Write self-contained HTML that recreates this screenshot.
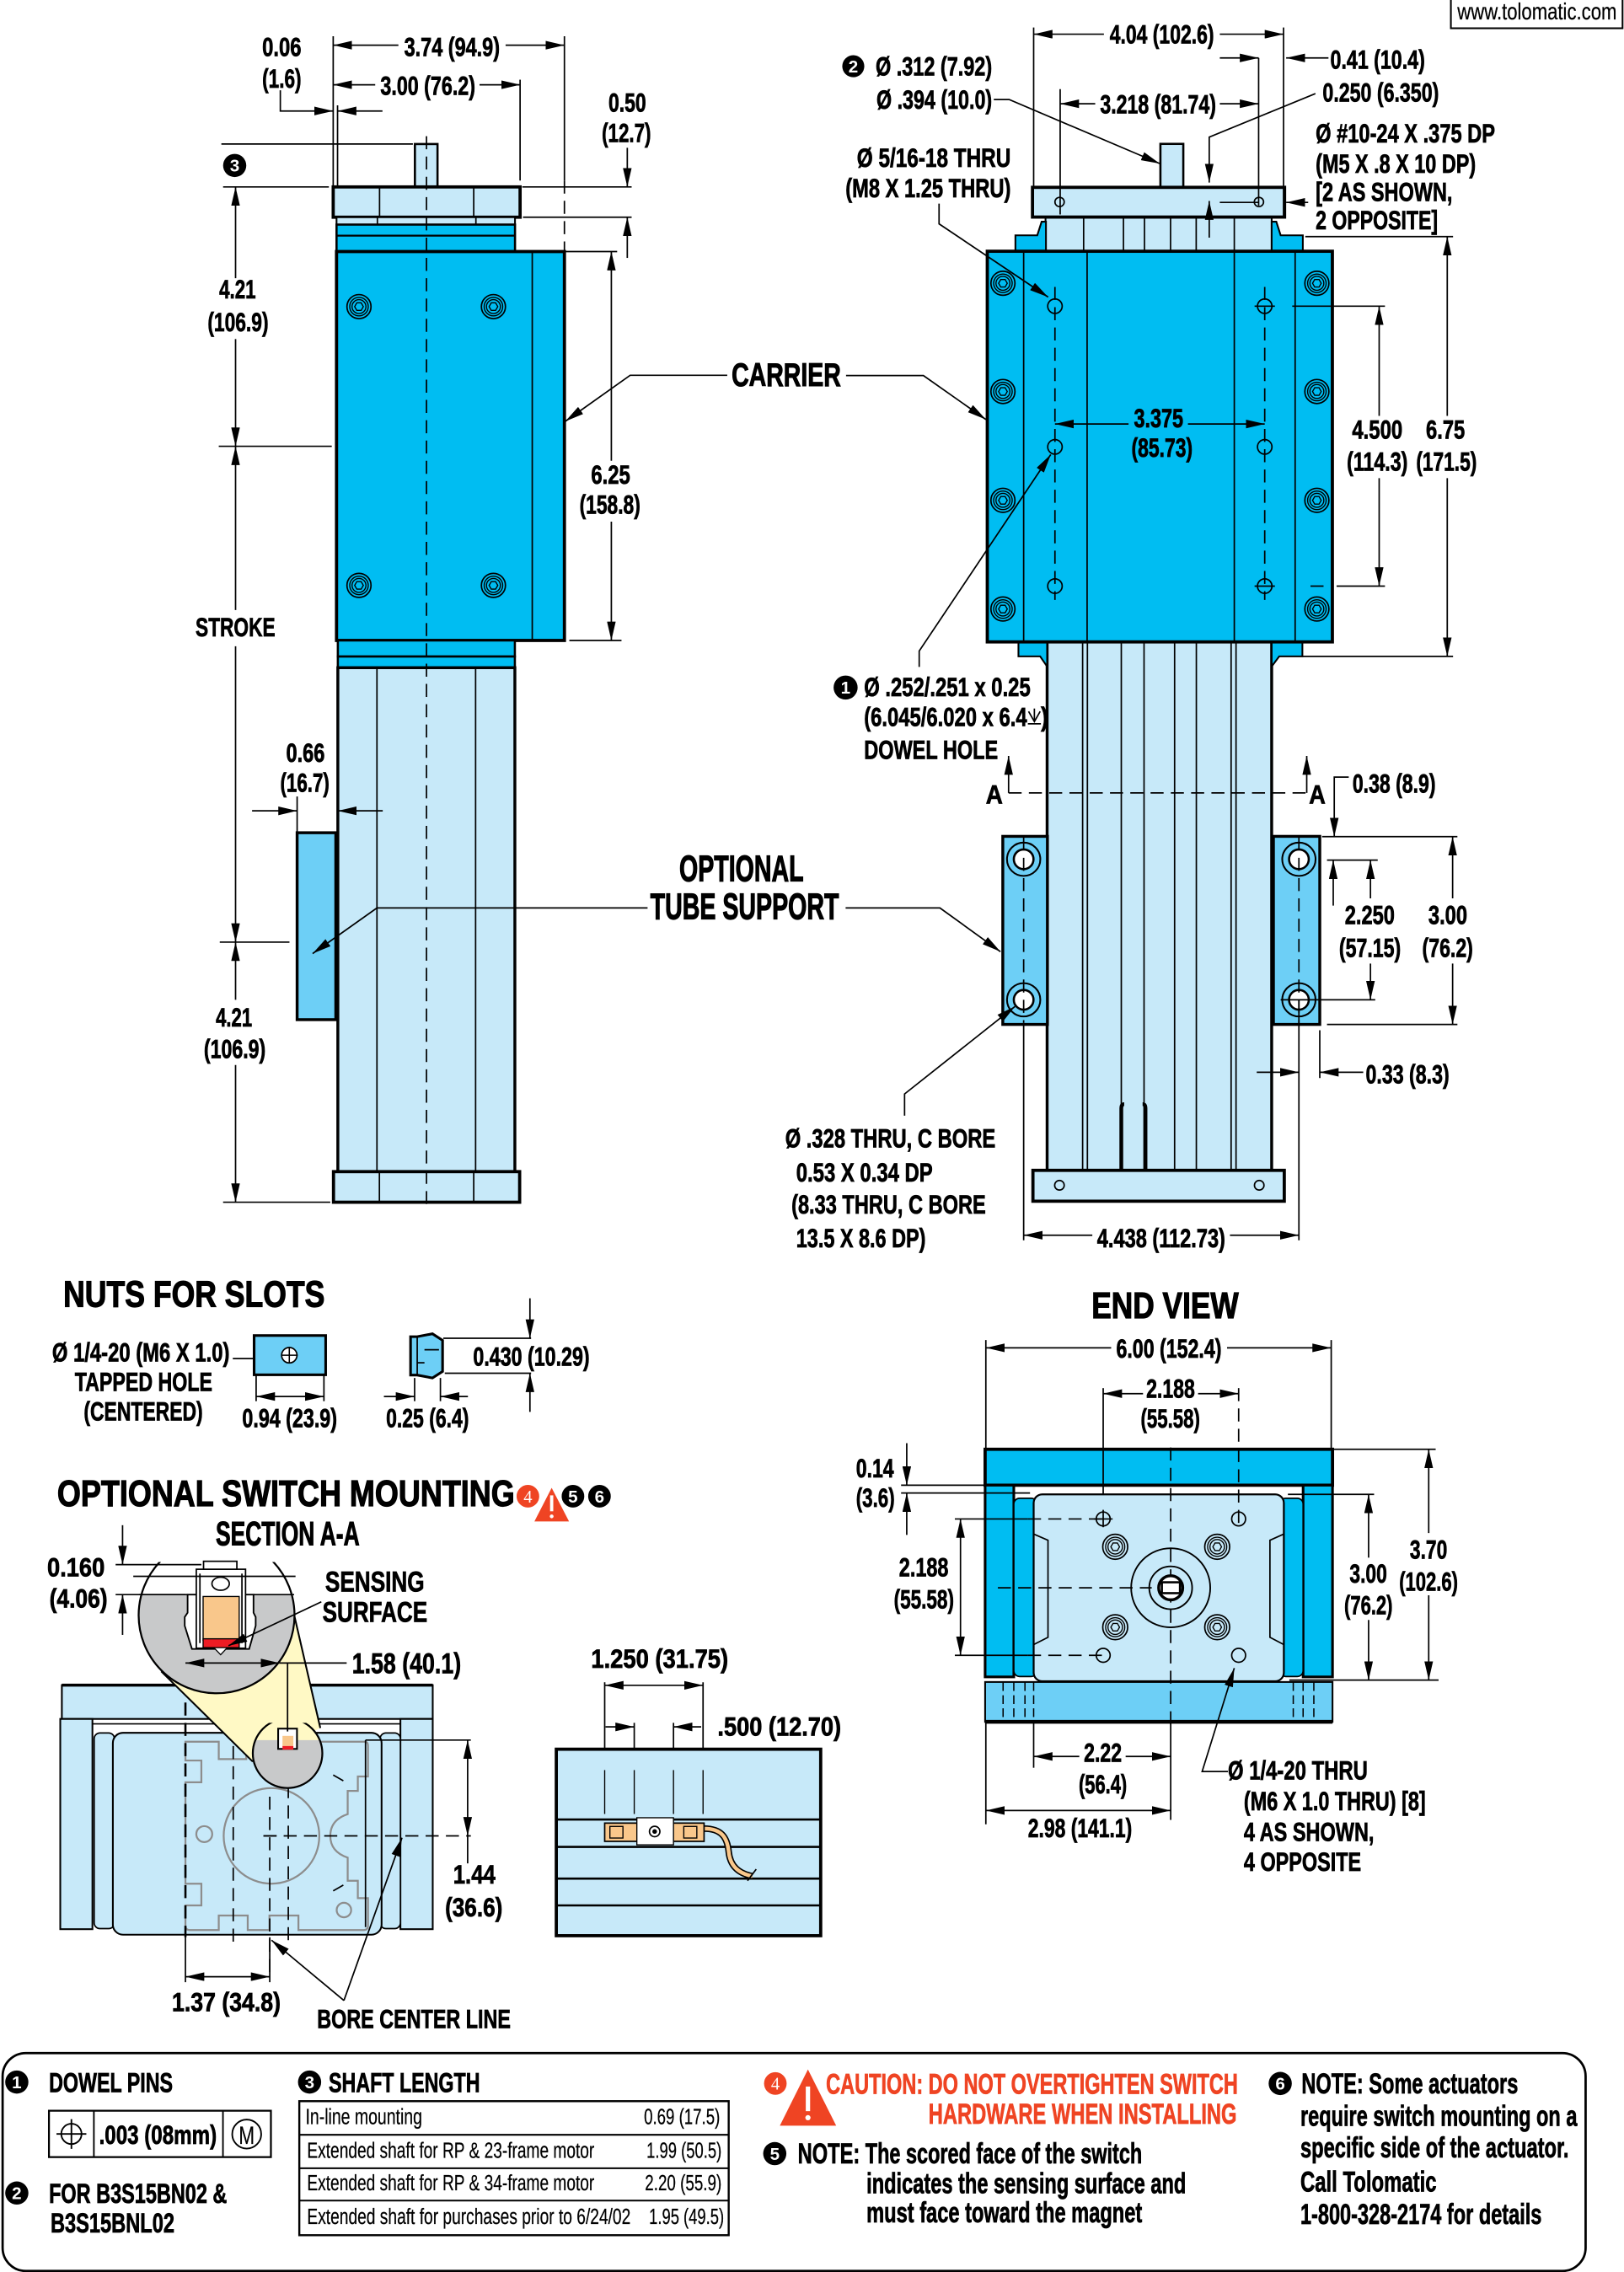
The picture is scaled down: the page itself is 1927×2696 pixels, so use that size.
<!DOCTYPE html>
<html><head><meta charset="utf-8"><style>
html,body{margin:0;padding:0;background:#fff}
svg{display:block}
text{font-family:"Liberation Sans",Arial,sans-serif;font-weight:bold;font-size:18.5px;fill:#000;stroke:#000;stroke-width:0.45}
.h{font-size:25.5px;stroke-width:0.7}
.m{font-size:20px}
.n{font-weight:normal;font-size:15px;stroke-width:0.15}
.w{fill:#fff;font-size:12px;text-anchor:middle;stroke:none}
.r{fill:#EF4423;stroke:#EF4423}
.d{stroke:#000;stroke-width:1;fill:none}
.k{stroke:#000;stroke-width:2.2}
.c{stroke:#000;stroke-width:1;stroke-dasharray:9 5;fill:none}
.g{stroke:#8d8d8d;stroke-width:1.3;fill:none}
</style></head><body>
<svg width="1927" height="2696" viewBox="0 0 1121 1568" preserveAspectRatio="none" xmlns="http://www.w3.org/2000/svg">
<defs>
<marker id="a" markerUnits="userSpaceOnUse" viewBox="0 0 13 6" markerWidth="13" markerHeight="6" refX="13" refY="3" orient="auto-start-reverse"><path d="M0,0L13,3L0,6z" fill="#000"/></marker>
<g id="scr"><circle r="8.3" fill="#00BDF2" stroke="#000" stroke-width="1"/><circle r="6.4" fill="none" stroke="#000" stroke-width="0.8"/><circle r="4.8" fill="none" stroke="#000" stroke-width="0.8"/><polygon points="3,0 1.5,2.6 -1.5,2.6 -3,0 -1.5,-2.6 1.5,-2.6" fill="none" stroke="#000" stroke-width="0.8"/></g>
<g id="scl"><circle r="8.6" fill="#C7E9F9" stroke="#000" stroke-width="1"/><circle r="6.6" fill="none" stroke="#000" stroke-width="0.8"/><circle r="5" fill="none" stroke="#000" stroke-width="0.8"/><polygon points="3,0 1.5,2.6 -1.5,2.6 -3,0 -1.5,-2.6 1.5,-2.6" fill="none" stroke="#000" stroke-width="0.8"/></g>
<g id="cbr"><circle r="11.5" fill="#6DCFF6" stroke="#000" stroke-width="1.2"/><circle r="6.8" fill="#fff" stroke="#000" stroke-width="1.5"/></g>
<clipPath id="cb1"><rect x="80" y="1078" width="140" height="100"/></clipPath>
<clipPath id="cg1"><rect x="80" y="1100.5" width="140" height="80"/></clipPath>
<clipPath id="cs1"><rect x="170" y="1189" width="60" height="50"/></clipPath>
<clipPath id="cs2"><rect x="170" y="1200.9" width="60" height="40"/></clipPath>
</defs>

<!-- website box -->
<rect x="1001.5" y="-2" width="118.5" height="21.5" fill="#fff" stroke="#000" stroke-width="1.2"/>
<text x="1006" y="13.5" class="n" style="font-size:16px" textLength="110" lengthAdjust="spacingAndGlyphs">www.tolomatic.com</text>

<!-- ================= LEFT SIDE VIEW ================= -->
<rect x="286.4" y="99.4" width="15.6" height="29.8" fill="#C7E9F9" stroke="#000" stroke-width="1.5"/>
<rect x="230" y="129" width="129" height="20.9" fill="#C7E9F9" class="k"/>
<line x1="262" y1="129" x2="262" y2="150" class="d"/><line x1="327" y1="129" x2="327" y2="150" class="d"/>
<rect x="232.3" y="149.9" width="123.2" height="5.1" fill="#C7E9F9" stroke="#000" stroke-width="1.2"/>
<line x1="260.5" y1="150" x2="260.5" y2="155" class="d"/><line x1="328.5" y1="150" x2="328.5" y2="155" class="d"/>
<rect x="232.3" y="155" width="123.2" height="18.6" fill="#00BDF2" stroke="#000" stroke-width="1.5"/>
<line x1="232.3" y1="162.6" x2="355.5" y2="162.6" class="d" style="stroke-width:1.3"/>
<rect x="232.3" y="173.6" width="157.3" height="268.4" fill="#00BDF2" class="k"/>
<line x1="367.4" y1="173.6" x2="367.4" y2="442" class="d"/>
<use href="#scr" x="247.8" y="211.6"/><use href="#scr" x="340.6" y="211.6"/>
<use href="#scr" x="247.8" y="404"/><use href="#scr" x="340.6" y="404"/>
<rect x="233.2" y="442" width="122.2" height="11.1" fill="#00BDF2" stroke="#000" stroke-width="1.5"/>
<rect x="233.2" y="453.1" width="122.2" height="7.7" fill="#00BDF2" stroke="#000" stroke-width="1.5"/>
<rect x="233.2" y="460.8" width="122.2" height="347.8" fill="#C7E9F9" stroke="#000" stroke-width="2"/>
<line x1="260.2" y1="460.8" x2="260.2" y2="808.6" class="d"/><line x1="328.3" y1="460.8" x2="328.3" y2="808.6" class="d"/>
<rect x="230.2" y="808.6" width="128.5" height="21.1" fill="#C7E9F9" class="k"/>
<line x1="261.9" y1="808.6" x2="261.9" y2="829.7" class="d"/><line x1="327" y1="808.6" x2="327" y2="829.7" class="d"/>
<rect x="205.1" y="574.7" width="26.7" height="129" fill="#6DCFF6" stroke="#000" stroke-width="2"/>
<line x1="294.4" y1="94" x2="294.4" y2="832" class="c"/>

<!-- left dims -->
<line x1="230" y1="25" x2="230" y2="129" class="d"/>
<line x1="389.6" y1="25" x2="389.6" y2="124.6" class="d"/>
<line x1="389.6" y1="124.6" x2="389.6" y2="178" class="c"/>
<line x1="275" y1="31.2" x2="230" y2="31.2" class="d" marker-end="url(#a)"/>
<line x1="349" y1="31.2" x2="389.6" y2="31.2" class="d" marker-end="url(#a)"/>
<text x="279" y="38.6" textLength="66" lengthAdjust="spacingAndGlyphs">3.74 (94.9)</text>
<line x1="359" y1="55" x2="359" y2="124.6" class="d"/>
<line x1="259" y1="58.5" x2="230" y2="58.5" class="d" marker-end="url(#a)"/>
<line x1="331" y1="58.5" x2="359" y2="58.5" class="d" marker-end="url(#a)"/>
<text x="262.6" y="65.3" textLength="65.5" lengthAdjust="spacingAndGlyphs">3.00 (76.2)</text>
<text x="181" y="38.6" textLength="27" lengthAdjust="spacingAndGlyphs">0.06</text>
<text x="181" y="60.5" textLength="27" lengthAdjust="spacingAndGlyphs">(1.6)</text>
<polyline points="193.5,62.3 193.5,76.6 230,76.6" class="d" marker-end="url(#a)"/>
<line x1="264" y1="76.6" x2="233" y2="76.6" class="d" marker-end="url(#a)"/>
<line x1="233" y1="72.7" x2="233" y2="129" class="d"/>
<line x1="152.8" y1="99.4" x2="285" y2="99.4" class="d"/>
<line x1="154" y1="129" x2="227" y2="129" class="d"/>
<circle cx="162" cy="114.2" r="8" fill="#000"/><text x="162" y="118.5" class="w">3</text>
<line x1="162.6" y1="192" x2="162.6" y2="129" class="d" marker-end="url(#a)"/>
<line x1="162.6" y1="234" x2="162.6" y2="308" class="d" marker-end="url(#a)"/>
<text x="151.3" y="206" textLength="25.3" lengthAdjust="spacingAndGlyphs">4.21</text>
<text x="143.3" y="228.5" textLength="42" lengthAdjust="spacingAndGlyphs">(106.9)</text>
<line x1="151" y1="308" x2="229" y2="308" class="d"/>
<line x1="162.6" y1="421" x2="162.6" y2="308" class="d" marker-end="url(#a)"/>
<line x1="162.6" y1="446" x2="162.6" y2="650.2" class="d" marker-end="url(#a)"/>
<text x="135" y="439" textLength="55" lengthAdjust="spacingAndGlyphs">STROKE</text>
<line x1="151.7" y1="650.2" x2="199.8" y2="650.2" class="d"/>
<line x1="162.6" y1="690" x2="162.6" y2="650.2" class="d" marker-end="url(#a)"/>
<line x1="162.6" y1="735" x2="162.6" y2="829.7" class="d" marker-end="url(#a)"/>
<text x="149" y="708.4" textLength="25" lengthAdjust="spacingAndGlyphs">4.21</text>
<text x="140.7" y="730.3" textLength="42.7" lengthAdjust="spacingAndGlyphs">(106.9)</text>
<line x1="154" y1="829.7" x2="228" y2="829.7" class="d"/>
<text x="420" y="77" textLength="26" lengthAdjust="spacingAndGlyphs">0.50</text>
<text x="415.4" y="98" textLength="34" lengthAdjust="spacingAndGlyphs">(12.7)</text>
<line x1="433" y1="102" x2="433" y2="129" class="d" marker-end="url(#a)"/>
<line x1="360.5" y1="129" x2="436" y2="129" class="d"/>
<line x1="361" y1="149.9" x2="436" y2="149.9" class="d"/>
<line x1="433" y1="178" x2="433" y2="149.9" class="d" marker-end="url(#a)"/>
<line x1="390" y1="173.6" x2="426" y2="173.6" class="d"/>
<line x1="393" y1="442" x2="429" y2="442" class="d"/>
<line x1="422" y1="318" x2="422" y2="173.6" class="d" marker-end="url(#a)"/>
<line x1="422" y1="360" x2="422" y2="442" class="d" marker-end="url(#a)"/>
<text x="408" y="333.8" textLength="27" lengthAdjust="spacingAndGlyphs">6.25</text>
<text x="400" y="354.6" textLength="42" lengthAdjust="spacingAndGlyphs">(158.8)</text>
<text x="505" y="266.4" class="m" style="font-size:22.5px;stroke-width:0.6" textLength="75.5" lengthAdjust="spacingAndGlyphs">CARRIER</text>
<polyline points="502,259 435,259 390.2,290.8" class="d" marker-end="url(#a)"/>
<polyline points="584,259.2 637.4,259.2 680.5,289.5" class="d" marker-end="url(#a)"/>
<text x="197.5" y="525.8" textLength="26.7" lengthAdjust="spacingAndGlyphs">0.66</text>
<text x="193.4" y="546.4" textLength="34" lengthAdjust="spacingAndGlyphs">(16.7)</text>
<line x1="174" y1="559.6" x2="205.1" y2="559.6" class="d" marker-end="url(#a)"/>
<line x1="264.2" y1="559.6" x2="233.2" y2="559.6" class="d" marker-end="url(#a)"/>
<line x1="205.1" y1="549.7" x2="205.1" y2="573.9" class="d"/>
<text x="468.9" y="608.2" class="h" textLength="85.8" lengthAdjust="spacingAndGlyphs">OPTIONAL</text>
<text x="448.9" y="634.3" class="h" textLength="130.2" lengthAdjust="spacingAndGlyphs">TUBE SUPPORT</text>
<polyline points="447,626.6 260.2,626.6 215.8,658.1" class="d" marker-end="url(#a)"/>
<polyline points="583.7,626.6 648.8,626.6 690.6,656.8" class="d" marker-end="url(#a)"/>

<!-- ================= RIGHT TOP VIEW ================= -->
<rect x="801" y="99.3" width="15.8" height="30" fill="#C7E9F9" stroke="#000" stroke-width="1.5"/>
<rect x="721.7" y="149.8" width="156.1" height="23.6" fill="#C7E9F9" stroke="#000" stroke-width="1.2"/>
<g class="d"><line x1="748" y1="150" x2="748" y2="173"/><line x1="775.5" y1="150" x2="775.5" y2="173"/><line x1="790" y1="150" x2="790" y2="173"/><line x1="808" y1="150" x2="808" y2="173"/><line x1="825.7" y1="150" x2="825.7" y2="173"/><line x1="852" y1="150" x2="852" y2="173"/></g>
<path d="M700.9,173.4 V162.4 H716 L719,153 H722 V173.4Z" fill="#00BDF2" stroke="#000" stroke-width="1.2"/>
<path d="M899.3,173.4 V162.4 H884 L881,153 H877.8 V173.4Z" fill="#00BDF2" stroke="#000" stroke-width="1.2"/>
<rect x="712.7" y="129.3" width="174" height="20.5" fill="#C7E9F9" class="k"/>
<circle cx="731.4" cy="139.4" r="3.2" fill="none" stroke="#000" stroke-width="1"/>
<circle cx="869" cy="139.4" r="3.2" fill="none" stroke="#000" stroke-width="1"/>
<rect x="722.8" y="443" width="155" height="364.7" fill="#C7E9F9" stroke="#000" stroke-width="2"/>
<g class="d"><line x1="747.3" y1="443" x2="747.3" y2="807"/><line x1="750.6" y1="443" x2="750.6" y2="807"/><line x1="774" y1="443" x2="774" y2="807"/><line x1="789.7" y1="443" x2="789.7" y2="807"/><line x1="810.8" y1="443" x2="810.8" y2="807"/><line x1="825.8" y1="443" x2="825.8" y2="807"/><line x1="849.8" y1="443" x2="849.8" y2="807"/><line x1="853.2" y1="443" x2="853.2" y2="807"/></g>
<path d="M774,807 V765 Q774,762 776,762 M790.7,807 V765 Q790.7,762 788.7,762" stroke="#000" stroke-width="2.6" fill="none"/>
<path d="M703,443 V453 H718 L722.8,460 V443Z" fill="#00BDF2" stroke="#000" stroke-width="1.2"/>
<path d="M899,443 V453 H883 L877.8,460 V443Z" fill="#00BDF2" stroke="#000" stroke-width="1.2"/>
<rect x="681.5" y="173.4" width="238.2" height="269.6" fill="#00BDF2" class="k"/>
<g class="d"><line x1="706.6" y1="173.4" x2="706.6" y2="443"/><line x1="750.4" y1="173.4" x2="750.4" y2="443"/><line x1="852" y1="173.4" x2="852" y2="443"/><line x1="894" y1="173.4" x2="894" y2="443"/></g>
<use href="#scr" x="692.3" y="195.5"/><use href="#scr" x="692.3" y="270.2"/><use href="#scr" x="692.3" y="345.3"/><use href="#scr" x="692.3" y="420.3"/>
<use href="#scr" x="909" y="195.5"/><use href="#scr" x="909" y="270.2"/><use href="#scr" x="909" y="345.3"/><use href="#scr" x="909" y="420.3"/>
<g fill="none" stroke="#000" stroke-width="1"><circle cx="728.2" cy="211.3" r="5"/><circle cx="728.2" cy="308.4" r="5"/><circle cx="728.2" cy="404.5" r="5"/><circle cx="873" cy="211.3" r="5"/><circle cx="873" cy="308.4" r="5"/><circle cx="873" cy="404.5" r="5"/></g>
<line x1="728.2" y1="198" x2="728.2" y2="414" class="c"/>
<line x1="873" y1="198" x2="873" y2="414" class="c"/>
<line x1="866" y1="211.3" x2="880" y2="211.3" class="d"/><line x1="866" y1="404.5" x2="880" y2="404.5" class="d"/>
<rect x="692.2" y="577.2" width="30.8" height="129.8" fill="#6DCFF6" stroke="#000" stroke-width="2"/>
<rect x="879" y="577.2" width="32" height="129.8" fill="#6DCFF6" stroke="#000" stroke-width="2"/>
<use href="#cbr" x="706.6" y="593"/><use href="#cbr" x="706.6" y="690"/><use href="#cbr" x="896.6" y="593"/><use href="#cbr" x="896.6" y="690"/>
<line x1="706.6" y1="578" x2="706.6" y2="706" class="c"/>
<line x1="896.6" y1="578" x2="896.6" y2="706" class="c"/>
<rect x="713" y="807.7" width="173.5" height="21.3" fill="#C7E9F9" class="k"/>
<circle cx="731.3" cy="818" r="3.3" fill="none" stroke="#000" stroke-width="1"/>
<circle cx="869.2" cy="818" r="3.3" fill="none" stroke="#000" stroke-width="1"/>

<!-- right dims -->
<line x1="713.5" y1="19" x2="713.5" y2="129" class="d"/>
<line x1="886" y1="19" x2="886" y2="150" class="d"/>
<line x1="762" y1="23.6" x2="713.5" y2="23.6" class="d" marker-end="url(#a)"/>
<line x1="842" y1="23.6" x2="886" y2="23.6" class="d" marker-end="url(#a)"/>
<text x="766" y="30" textLength="72" lengthAdjust="spacingAndGlyphs">4.04 (102.6)</text>
<line x1="842" y1="40" x2="868.8" y2="40" class="d" marker-end="url(#a)"/>
<line x1="868.8" y1="40" x2="868.8" y2="142" class="d"/>
<line x1="917" y1="40" x2="887.8" y2="40" class="d" marker-end="url(#a)"/>
<text x="918.3" y="47.3" textLength="65.3" lengthAdjust="spacingAndGlyphs">0.41 (10.4)</text>
<text x="913" y="70" textLength="80.2" lengthAdjust="spacingAndGlyphs">0.250 (6.350)</text>
<polyline points="908,64.6 834.7,94.6 834.7,126" class="d" marker-end="url(#a)"/>
<line x1="834.7" y1="164" x2="834.7" y2="138.7" class="d" marker-end="url(#a)"/>
<line x1="842" y1="139.7" x2="869" y2="139.7" class="d"/>
<line x1="903" y1="139.7" x2="887.8" y2="139.7" class="d" marker-end="url(#a)"/>
<line x1="731.8" y1="61.5" x2="731.8" y2="148" class="d"/>
<line x1="756" y1="71.6" x2="731.8" y2="71.6" class="d" marker-end="url(#a)"/>
<line x1="842" y1="71.6" x2="868.8" y2="71.6" class="d" marker-end="url(#a)"/>
<text x="759.4" y="78.2" textLength="80" lengthAdjust="spacingAndGlyphs">3.218 (81.74)</text>
<circle cx="589" cy="45.7" r="7.6" fill="#000"/><text x="589" y="50" class="w">2</text>
<text x="604.4" y="52" textLength="80.4" lengthAdjust="spacingAndGlyphs">Ø .312 (7.92)</text>
<text x="605" y="75" textLength="79.8" lengthAdjust="spacingAndGlyphs">Ø .394 (10.0)</text>
<polyline points="686,68.7 696.6,68.7 800.6,112.9" class="d" marker-end="url(#a)"/>
<text x="908.2" y="98.4" textLength="123.8" lengthAdjust="spacingAndGlyphs">Ø #10-24 X .375 DP</text>
<text x="908.2" y="119.2" textLength="110.5" lengthAdjust="spacingAndGlyphs">(M5 X .8 X 10 DP)</text>
<text x="908.2" y="138.7" textLength="94.4" lengthAdjust="spacingAndGlyphs">[2 AS SHOWN,</text>
<text x="908.2" y="158.3" textLength="84.3" lengthAdjust="spacingAndGlyphs">2 OPPOSITE]</text>
<text x="591.5" y="115.1" textLength="106.2" lengthAdjust="spacingAndGlyphs">Ø 5/16-18 THRU</text>
<text x="583.6" y="136.2" textLength="114.1" lengthAdjust="spacingAndGlyphs">(M8 X 1.25 THRU)</text>
<polyline points="648.2,140.5 648.2,154.5 723.5,205" class="d" marker-end="url(#a)"/>
<line x1="779" y1="292.6" x2="728.2" y2="292.6" class="d" marker-end="url(#a)"/>
<line x1="820" y1="292.6" x2="873" y2="292.6" class="d" marker-end="url(#a)"/>
<text x="782.7" y="294.8" textLength="34.1" lengthAdjust="spacingAndGlyphs">3.375</text>
<text x="781" y="315.3" textLength="42.2" lengthAdjust="spacingAndGlyphs">(85.73)</text>
<line x1="892" y1="211.3" x2="956" y2="211.3" class="d"/>
<line x1="922.6" y1="404.5" x2="956" y2="404.5" class="d"/>
<line x1="904.6" y1="404.5" x2="913.6" y2="404.5" class="d"/>
<line x1="952" y1="287" x2="952" y2="211.3" class="d" marker-end="url(#a)"/>
<line x1="952" y1="330" x2="952" y2="404.5" class="d" marker-end="url(#a)"/>
<text x="933.3" y="302.7" textLength="34.8" lengthAdjust="spacingAndGlyphs">4.500</text>
<text x="929.7" y="324.8" textLength="42" lengthAdjust="spacingAndGlyphs">(114.3)</text>
<line x1="901" y1="163.3" x2="1003" y2="163.3" class="d"/>
<line x1="899" y1="453" x2="1003" y2="453" class="d"/>
<line x1="999" y1="287" x2="999" y2="163.3" class="d" marker-end="url(#a)"/>
<line x1="999" y1="330" x2="999" y2="453" class="d" marker-end="url(#a)"/>
<text x="984.3" y="302.7" textLength="26.9" lengthAdjust="spacingAndGlyphs">6.75</text>
<text x="977.5" y="324.8" textLength="41.9" lengthAdjust="spacingAndGlyphs">(171.5)</text>
<circle cx="583.7" cy="474.5" r="8.3" fill="#000"/><text x="583.7" y="478.8" class="w">1</text>
<text x="596.4" y="480.5" textLength="114.9" lengthAdjust="spacingAndGlyphs">Ø .252/.251 x 0.25</text>
<text x="596.4" y="501.1" textLength="112.5" lengthAdjust="spacingAndGlyphs">(6.045/6.020 x 6.4</text>
<path d="M710,491 L714,498 L718,491 M714,489 V498 M709.5,499.5 H718.5" stroke="#000" stroke-width="1" fill="none"/>
<text x="718.5" y="501.1" textLength="5" lengthAdjust="spacingAndGlyphs">)</text>
<text x="596.4" y="523.6" textLength="92.5" lengthAdjust="spacingAndGlyphs">DOWEL HOLE</text>
<polyline points="634.5,460.3 634.5,449.3 725.3,313.7" class="d" marker-end="url(#a)"/>
<line x1="696.2" y1="547.2" x2="902.6" y2="547.2" class="c"/>
<line x1="696.2" y1="547.2" x2="696.2" y2="521.7" class="d" marker-end="url(#a)"/>
<line x1="902" y1="547.2" x2="902" y2="521.7" class="d" marker-end="url(#a)"/>
<text x="680.5" y="554.6" textLength="11.7" lengthAdjust="spacingAndGlyphs">A</text>
<text x="903.6" y="554.6" textLength="11.4" lengthAdjust="spacingAndGlyphs">A</text>
<text x="933.6" y="547" textLength="57.4" lengthAdjust="spacingAndGlyphs">0.38 (8.9)</text>
<polyline points="931,536.3 921,536.3 921,577.4" class="d" marker-end="url(#a)"/>
<line x1="912.6" y1="577.4" x2="1006" y2="577.4" class="d"/>
<line x1="916" y1="593.6" x2="951" y2="593.6" class="d"/>
<line x1="884" y1="690" x2="949.3" y2="690" class="d"/>
<line x1="920.3" y1="625" x2="920.3" y2="593.6" class="d" marker-end="url(#a)"/>
<line x1="946" y1="620" x2="946" y2="593.6" class="d" marker-end="url(#a)"/>
<line x1="946" y1="665" x2="946" y2="690" class="d" marker-end="url(#a)"/>
<text x="928.3" y="637.6" textLength="34.4" lengthAdjust="spacingAndGlyphs">2.250</text>
<text x="924.3" y="660.3" textLength="42.7" lengthAdjust="spacingAndGlyphs">(57.15)</text>
<line x1="1002.7" y1="620" x2="1002.7" y2="577.4" class="d" marker-end="url(#a)"/>
<line x1="1002.7" y1="665" x2="1002.7" y2="707" class="d" marker-end="url(#a)"/>
<text x="986" y="637.6" textLength="26.8" lengthAdjust="spacingAndGlyphs">3.00</text>
<text x="981.7" y="660.3" textLength="35.1" lengthAdjust="spacingAndGlyphs">(76.2)</text>
<line x1="916" y1="707" x2="1006" y2="707" class="d"/>
<line x1="867.5" y1="740" x2="896.6" y2="740" class="d" marker-end="url(#a)"/>
<line x1="896.6" y1="690" x2="896.6" y2="856" class="d"/>
<line x1="941" y1="740" x2="911" y2="740" class="d" marker-end="url(#a)"/>
<line x1="911" y1="711" x2="911" y2="744" class="d"/>
<text x="942.7" y="747.6" textLength="57.7" lengthAdjust="spacingAndGlyphs">0.33 (8.3)</text>
<line x1="706.6" y1="707" x2="706.6" y2="856" class="d"/>
<line x1="754" y1="852.5" x2="706.6" y2="852.5" class="d" marker-end="url(#a)"/>
<line x1="849" y1="852.5" x2="896.6" y2="852.5" class="d" marker-end="url(#a)"/>
<text x="757.3" y="860.7" textLength="88.5" lengthAdjust="spacingAndGlyphs">4.438 (112.73)</text>
<text x="542" y="792" textLength="145.2" lengthAdjust="spacingAndGlyphs">Ø .328 THRU, C BORE</text>
<text x="549.6" y="815.4" textLength="94.2" lengthAdjust="spacingAndGlyphs">0.53 X 0.34 DP</text>
<text x="546.3" y="837.4" textLength="134.2" lengthAdjust="spacingAndGlyphs">(8.33 THRU, C BORE</text>
<text x="549.6" y="860.7" textLength="89.4" lengthAdjust="spacingAndGlyphs">13.5 X 8.6 DP)</text>
<polyline points="624.4,770 624.4,755 700.6,694.6" class="d" marker-end="url(#a)"/>

<!-- ================= NUTS FOR SLOTS ================= -->
<text x="43.7" y="901.7" class="h" textLength="180.5" lengthAdjust="spacingAndGlyphs">NUTS FOR SLOTS</text>
<text x="36" y="939.5" textLength="122.5" lengthAdjust="spacingAndGlyphs">Ø 1/4-20 (M6 X 1.0)</text>
<text x="51.6" y="960" textLength="95" lengthAdjust="spacingAndGlyphs">TAPPED HOLE</text>
<text x="57.8" y="980.3" textLength="82.2" lengthAdjust="spacingAndGlyphs">(CENTERED)</text>
<line x1="160.7" y1="937.6" x2="175.4" y2="937.6" class="d"/>
<rect x="175.4" y="921.7" width="49.4" height="27.1" fill="#6DCFF6" stroke="#000" stroke-width="1.8"/>
<circle cx="199.7" cy="935.3" r="5.3" fill="#fff" stroke="#000" stroke-width="1"/>
<path d="M199.7,929.5V941M194,935.3H205.5" stroke="#000" stroke-width="0.9"/>
<line x1="176.8" y1="949" x2="176.8" y2="967" class="d"/><line x1="223.6" y1="949" x2="223.6" y2="967" class="d"/>
<line x1="176.8" y1="963.8" x2="223.6" y2="963.8" class="d" marker-start="url(#a)" marker-end="url(#a)"/>
<text x="167.2" y="985" textLength="65.5" lengthAdjust="spacingAndGlyphs">0.94 (23.9)</text>
<path d="M283.4,922.5 H288 L298.5,920.5 L305.5,925 V946.5 L298.5,951 L288,949 H283.4Z" fill="#6DCFF6" stroke="#000" stroke-width="1.8"/>
<line x1="288" y1="922.5" x2="288" y2="949" class="d"/>
<line x1="293" y1="931.5" x2="303" y2="931.5" class="d"/><line x1="288" y1="940.5" x2="293" y2="940.5" class="d"/>
<line x1="306" y1="923.6" x2="366.6" y2="923.6" class="d"/>
<line x1="307" y1="947.7" x2="366.6" y2="947.7" class="d"/>
<line x1="365.8" y1="896" x2="365.8" y2="923.6" class="d" marker-end="url(#a)"/>
<line x1="365.8" y1="974.4" x2="365.8" y2="947.7" class="d" marker-end="url(#a)"/>
<text x="326.6" y="942.5" textLength="80.4" lengthAdjust="spacingAndGlyphs">0.430 (10.29)</text>
<line x1="286.2" y1="951" x2="286.2" y2="967" class="d"/><line x1="304" y1="951" x2="304" y2="967" class="d"/>
<line x1="265" y1="963.8" x2="286.2" y2="963.8" class="d" marker-end="url(#a)"/>
<line x1="323" y1="963.8" x2="304" y2="963.8" class="d" marker-end="url(#a)"/>
<text x="266.5" y="985" textLength="57.2" lengthAdjust="spacingAndGlyphs">0.25 (6.4)</text>

<!-- ================= OPTIONAL SWITCH MOUNTING ================= -->
<text x="39.5" y="1039.4" class="h" textLength="315.8" lengthAdjust="spacingAndGlyphs">OPTIONAL SWITCH MOUNTING</text>
<circle cx="364.4" cy="1032.6" r="7.8" fill="#EF4423"/><text x="364.4" y="1036.9" class="w" style="font-weight:normal;font-family:'Liberation Serif',serif">4</text>
<path d="M380.8,1026.8 L392.8,1050 H368.9Z" fill="#EF4423"/>
<path d="M380.8,1032 V1043" stroke="#fff" stroke-width="2.2"/><circle cx="380.8" cy="1046.5" r="1.3" fill="#fff"/>
<circle cx="395.5" cy="1032.6" r="7.8" fill="#000"/><text x="395.5" y="1036.9" class="w">5</text>
<circle cx="413.8" cy="1032.6" r="7.8" fill="#000"/><text x="413.8" y="1036.9" class="w">6</text>
<text x="148.9" y="1066.5" style="font-size:23px;stroke-width:0.6" textLength="99.3" lengthAdjust="spacingAndGlyphs">SECTION A-A</text>

<!-- body -->
<rect x="42.7" y="1163" width="256" height="23.3" fill="#C7E9F9" stroke="#000" stroke-width="1.2"/>
<line x1="42.7" y1="1163" x2="298.7" y2="1163" stroke="#000" stroke-width="2"/>
<rect x="41.6" y="1186.3" width="22.2" height="145.1" fill="#C7E9F9" stroke="#000" stroke-width="1.2"/>
<rect x="276.4" y="1186.3" width="22.3" height="145.1" fill="#C7E9F9" stroke="#000" stroke-width="1.2"/>
<line x1="63.8" y1="1189.7" x2="276.4" y2="1189.7" class="d"/>
<rect x="65" y="1196" width="14" height="135" rx="4" fill="#C7E9F9" stroke="#000" stroke-width="1"/>
<rect x="262.4" y="1196" width="14" height="135" rx="4" fill="#C7E9F9" stroke="#000" stroke-width="1"/>
<rect x="77.9" y="1195.9" width="185.5" height="139.3" rx="7" fill="#C7E9F9" stroke="#000" stroke-width="1.2"/>
<path class="g" d="M128,1202 H151 V1214 H170 V1202 H252 Q254,1202 254,1205 V1226 H247 V1236 H240 V1252 Q228,1256 228,1267 Q228,1278 240,1282 V1298 H247 V1310 H254 V1329 Q254,1332 251,1332 H206 V1322 H186 V1332 H171 V1322 H151 V1332 H131 Q128,1332 128,1329 V1315 H139 V1300 H128 V1230 H139 V1215 H128Z"/>
<circle cx="187.4" cy="1267" r="33" class="g"/>
<circle cx="141" cy="1265.8" r="5.5" class="g"/>
<circle cx="237.4" cy="1318.2" r="5" class="g"/>
<line x1="252.3" y1="1200.9" x2="252.3" y2="1330" class="d"/>
<line x1="230" y1="1225" x2="237" y2="1229" class="d"/><line x1="230" y1="1305" x2="237" y2="1301" class="d"/>
<line x1="128" y1="1147" x2="128" y2="1337" class="c" style="stroke-width:1.5"/>
<line x1="186.2" y1="1240" x2="186.2" y2="1366" class="c"/>
<line x1="199" y1="1232" x2="199" y2="1340" class="c"/>
<line x1="161" y1="1205" x2="161" y2="1340" class="c"/>
<line x1="181.8" y1="1267" x2="325" y2="1267" class="c"/>
<line x1="182" y1="1267" x2="191" y2="1267" class="d"/>
<!-- beam -->
<polygon points="111.3,1153.5 203.3,1115.6 221.1,1192.6 174.5,1215.8" fill="#FFF9C5"/>
<line x1="111.3" y1="1153.5" x2="174.5" y2="1215.8" class="d" style="stroke-width:1.2"/>
<line x1="203.3" y1="1115.6" x2="221.1" y2="1192.6" class="d" style="stroke-width:1.2"/>
<!-- big circle -->
<circle cx="149.5" cy="1114.8" r="53.8" fill="#fff" clip-path="url(#cb1)"/>
<circle cx="149.5" cy="1114.8" r="53.8" fill="#C8C9CA" clip-path="url(#cg1)"/>
<circle cx="149.5" cy="1114.8" r="53.8" fill="none" stroke="#000" stroke-width="1.3" clip-path="url(#cb1)"/>
<line x1="96" y1="1100.5" x2="129.5" y2="1100.5" class="d"/><line x1="175" y1="1100.5" x2="203" y2="1100.5" class="d"/>
<path d="M129.5,1100.5 V1113 L127.5,1116 V1122 L132.5,1138 H172 L176.5,1122 V1116 L175,1113 V1100.5Z" fill="#fff" stroke="#000" stroke-width="1.1"/>
<rect x="135.5" y="1083" width="34" height="54.5" fill="#fff" stroke="#000" stroke-width="1"/>
<rect x="140.5" y="1077.5" width="23" height="5.5" fill="#fff" stroke="#000" stroke-width="1"/>
<ellipse cx="152.3" cy="1093" rx="6" ry="4.5" fill="#fff" stroke="#000" stroke-width="1"/>
<line x1="138" y1="1086" x2="138" y2="1134" class="d"/><line x1="167" y1="1086" x2="167" y2="1134" class="d"/>
<rect x="140.2" y="1101.8" width="24.9" height="30.2" fill="#F9C78B" stroke="#000" stroke-width="0.8"/>
<rect x="140.2" y="1131" width="24.9" height="6.1" fill="#ED1C24" stroke="#000" stroke-width="0.8"/>
<path d="M148,1137.5 L152.3,1142 L156.5,1137.5" fill="#fff" stroke="#000" stroke-width="0.8"/>
<!-- small circle -->
<circle cx="198.5" cy="1210" r="24" fill="#FFF9C5" clip-path="url(#cs1)"/>
<circle cx="198.5" cy="1210" r="24" fill="#C8C9CA" clip-path="url(#cs2)"/>
<circle cx="198.5" cy="1210" r="24" fill="none" stroke="#000" stroke-width="1.3" clip-path="url(#cs1)"/>
<rect x="192" y="1193" width="13" height="14" fill="#fff" stroke="#000" stroke-width="1.2"/>
<rect x="195" y="1198" width="7.5" height="7" fill="#F9C78B"/>
<rect x="195" y="1205" width="7.5" height="2.5" fill="#ED1C24"/>
<!-- dims section -->
<text x="32.6" y="1087.9" textLength="39.7" lengthAdjust="spacingAndGlyphs">0.160</text>
<text x="34.1" y="1109.3" textLength="40.1" lengthAdjust="spacingAndGlyphs">(4.06)</text>
<line x1="84.6" y1="1052.6" x2="84.6" y2="1079.8" class="d" marker-end="url(#a)"/>
<line x1="79.8" y1="1079.8" x2="139" y2="1079.8" class="d"/>
<line x1="92" y1="1087.9" x2="204" y2="1087.9" class="d"/>
<line x1="79.8" y1="1100.5" x2="128" y2="1100.5" class="d"/>
<line x1="84.6" y1="1128.3" x2="84.6" y2="1100.5" class="d" marker-end="url(#a)"/>
<text x="224.5" y="1098.5" class="m" textLength="68.5" lengthAdjust="spacingAndGlyphs">SENSING</text>
<text x="222.6" y="1119.4" class="m" textLength="72.4" lengthAdjust="spacingAndGlyphs">SURFACE</text>
<line x1="221.8" y1="1105.5" x2="157.7" y2="1135.8" class="d" marker-end="url(#a)"/>
<line x1="128" y1="1147.7" x2="193" y2="1147.7" class="d" marker-start="url(#a)" marker-end="url(#a)"/>
<line x1="193" y1="1147.7" x2="239.3" y2="1147.7" class="d"/>
<line x1="198.5" y1="1147.7" x2="198.5" y2="1195" class="d"/>
<text x="243" y="1154.8" class="m" textLength="75.3" lengthAdjust="spacingAndGlyphs">1.58 (40.1)</text>
<line x1="252.3" y1="1200.9" x2="325" y2="1200.9" class="d"/>
<line x1="322.8" y1="1200.9" x2="322.8" y2="1267" class="d" marker-start="url(#a)" marker-end="url(#a)"/>
<line x1="322.8" y1="1267" x2="322.8" y2="1286" class="d"/>
<text x="312.8" y="1299.8" textLength="29.2" lengthAdjust="spacingAndGlyphs">1.44</text>
<text x="307.2" y="1322.5" textLength="39.7" lengthAdjust="spacingAndGlyphs">(36.6)</text>
<line x1="128" y1="1337" x2="128" y2="1368" class="d"/>
<line x1="186.2" y1="1337" x2="186.2" y2="1368" class="d"/>
<line x1="128" y1="1364.2" x2="186.2" y2="1364.2" class="d" marker-start="url(#a)" marker-end="url(#a)"/>
<text x="118.7" y="1388.1" textLength="75" lengthAdjust="spacingAndGlyphs">1.37 (34.8)</text>
<text x="218.9" y="1399.5" textLength="133.6" lengthAdjust="spacingAndGlyphs">BORE CENTER LINE</text>
<line x1="237.4" y1="1380.6" x2="187.4" y2="1339" class="d" marker-end="url(#a)"/>
<line x1="237.4" y1="1380.6" x2="277.5" y2="1268.3" class="d" marker-end="url(#a)"/>

<!-- side view switch -->
<rect x="384" y="1207.2" width="182.5" height="128.7" fill="#C7E9F9" class="k"/>
<g stroke="#000" stroke-width="1.5"><line x1="384" y1="1255.7" x2="566.5" y2="1255.7"/><line x1="384" y1="1274.6" x2="566.5" y2="1274.6"/><line x1="384" y1="1296.5" x2="566.5" y2="1296.5"/><line x1="384" y1="1315" x2="566.5" y2="1315"/></g>
<g stroke="#000" stroke-width="0.8"><line x1="417.4" y1="1221.6" x2="417.4" y2="1251.9"/><line x1="437.8" y1="1221.6" x2="437.8" y2="1251.9"/><line x1="464.9" y1="1221.6" x2="464.9" y2="1251.9"/><line x1="485.3" y1="1221.6" x2="485.3" y2="1251.9"/></g>
<path d="M486,1262 C498,1262 502,1268 503,1278 C504,1288 510,1293 519.4,1294.8" stroke="#000" stroke-width="4.5" fill="none"/>
<path d="M486,1262 C498,1262 502,1268 503,1278 C504,1288 510,1293 519.4,1294.8" stroke="#F9C78B" stroke-width="2.6" fill="none"/>
<line x1="516" y1="1298" x2="522" y2="1290" class="d"/>
<rect x="417.4" y="1258.2" width="68.6" height="12.6" fill="#F9C78B" stroke="#000" stroke-width="1"/>
<rect x="421" y="1260.5" width="9" height="8" fill="none" stroke="#000" stroke-width="0.8"/>
<rect x="472" y="1260.5" width="9" height="8" fill="none" stroke="#000" stroke-width="0.8"/>
<rect x="439.6" y="1254.5" width="25.3" height="18.7" fill="#fff" stroke="#000" stroke-width="0.8"/>
<circle cx="451.9" cy="1264" r="3.6" fill="none" stroke="#000" stroke-width="1"/>
<circle cx="451.9" cy="1264" r="1.6" fill="#000"/>
<line x1="417.4" y1="1161" x2="417.4" y2="1207" class="d"/><line x1="485.3" y1="1161" x2="485.3" y2="1207" class="d"/>
<line x1="417.4" y1="1163.1" x2="485.3" y2="1163.1" class="d" marker-start="url(#a)" marker-end="url(#a)"/>
<text x="408" y="1151" textLength="94.7" lengthAdjust="spacingAndGlyphs">1.250 (31.75)</text>
<line x1="437.8" y1="1189" x2="437.8" y2="1207" class="d"/><line x1="464.9" y1="1189" x2="464.9" y2="1207" class="d"/>
<line x1="418" y1="1191.8" x2="437.8" y2="1191.8" class="d" marker-end="url(#a)"/>
<line x1="484" y1="1191.8" x2="464.9" y2="1191.8" class="d" marker-end="url(#a)"/>
<text x="495.3" y="1197.7" textLength="85.3" lengthAdjust="spacingAndGlyphs">.500 (12.70)</text>

<!-- ================= END VIEW ================= -->
<text x="753.5" y="909.7" class="h" textLength="101.5" lengthAdjust="spacingAndGlyphs">END VIEW</text>
<rect x="680" y="1160.8" width="239.8" height="27.5" fill="#6DCFF6" stroke="#000" stroke-width="1.2"/>
<line x1="680" y1="1188.3" x2="919.8" y2="1188.3" stroke="#000" stroke-width="2.6"/>
<g stroke="#000" stroke-width="0.9" stroke-dasharray="6 3"><line x1="692.4" y1="1161" x2="692.4" y2="1188"/><line x1="699.8" y1="1161" x2="699.8" y2="1188"/><line x1="707.5" y1="1161" x2="707.5" y2="1188"/><line x1="713.5" y1="1161" x2="713.5" y2="1188"/><line x1="892.7" y1="1161" x2="892.7" y2="1188"/><line x1="899.5" y1="1161" x2="899.5" y2="1188"/><line x1="906.9" y1="1161" x2="906.9" y2="1188"/></g>
<rect x="680" y="1000.2" width="239.8" height="24.8" fill="#00BDF2" class="k"/>
<rect x="680" y="1025" width="19.8" height="132.3" fill="#00BDF2" stroke="#000" stroke-width="1.8"/>
<rect x="899.5" y="1025" width="20.3" height="132.3" fill="#00BDF2" stroke="#000" stroke-width="1.8"/>
<rect x="699.8" y="1034" width="16" height="123" rx="4" fill="#00BDF2" stroke="#000" stroke-width="1"/>
<rect x="883.5" y="1034" width="16" height="123" rx="4" fill="#00BDF2" stroke="#000" stroke-width="1"/>
<rect x="713.5" y="1031.3" width="172.7" height="129" rx="6" fill="#C7E9F9" stroke="#000" stroke-width="1.3"/>
<path d="M713.5,1058.7 L723.4,1063 V1130 L713.5,1135" fill="none" stroke="#000" stroke-width="1"/>
<path d="M886.2,1058.7 L876.6,1063 V1130 L886.2,1135" fill="none" stroke="#000" stroke-width="1"/>
<line x1="808.1" y1="999" x2="808.1" y2="1192" class="c"/>
<line x1="688.8" y1="1095.8" x2="795" y2="1095.8" class="c"/>
<line x1="709.6" y1="1048.3" x2="761.5" y2="1048.3" class="c"/>
<line x1="709.6" y1="1142.4" x2="761.5" y2="1142.4" class="c"/>
<line x1="855" y1="958" x2="855" y2="1054" class="c"/>
<g fill="none" stroke="#000" stroke-width="1"><circle cx="761.5" cy="1048.3" r="4.8"/><circle cx="855" cy="1048.3" r="4.8"/><circle cx="761.5" cy="1142.4" r="4.8"/><circle cx="855" cy="1142.4" r="4.8"/></g>
<line x1="761.5" y1="1042" x2="761.5" y2="1054" class="d"/><line x1="755" y1="1048.3" x2="768" y2="1048.3" class="d"/>
<use href="#scl" x="769.8" y="1067.5"/><use href="#scl" x="840.2" y="1067.5"/><use href="#scl" x="769.8" y="1123"/><use href="#scl" x="840.2" y="1123"/>
<circle cx="808.1" cy="1095.8" r="27.3" fill="none" stroke="#000" stroke-width="1.1"/>
<circle cx="808.1" cy="1095.8" r="14.8" fill="none" stroke="#000" stroke-width="1.1"/>
<circle cx="808.1" cy="1095.8" r="8.3" fill="#fff" stroke="#000" stroke-width="2"/>
<rect x="802" y="1092" width="12.5" height="7.5" fill="#fff" stroke="#000" stroke-width="1.5"/>
<line x1="680.5" y1="924.8" x2="680.5" y2="1000" class="d"/><line x1="918.9" y1="924.8" x2="918.9" y2="1000" class="d"/>
<line x1="767" y1="930.2" x2="680.5" y2="930.2" class="d" marker-end="url(#a)"/>
<line x1="847" y1="930.2" x2="918.9" y2="930.2" class="d" marker-end="url(#a)"/>
<text x="770.5" y="937.1" textLength="72.7" lengthAdjust="spacingAndGlyphs">6.00 (152.4)</text>
<line x1="761.5" y1="958" x2="761.5" y2="1031.8" class="d"/>
<line x1="789" y1="961.8" x2="761.5" y2="961.8" class="d" marker-end="url(#a)"/>
<line x1="827" y1="961.8" x2="855" y2="961.8" class="d" marker-end="url(#a)"/>
<text x="791.2" y="964.6" textLength="33.6" lengthAdjust="spacingAndGlyphs">2.188</text>
<text x="787.4" y="985.1" textLength="40.9" lengthAdjust="spacingAndGlyphs">(55.58)</text>
<text x="590.9" y="1019.5" textLength="26.1" lengthAdjust="spacingAndGlyphs">0.14</text>
<text x="590.9" y="1040" textLength="26.7" lengthAdjust="spacingAndGlyphs">(3.6)</text>
<line x1="625.9" y1="996" x2="625.9" y2="1025" class="d" marker-end="url(#a)"/>
<line x1="625.9" y1="1059.3" x2="625.9" y2="1030.4" class="d" marker-end="url(#a)"/>
<line x1="622" y1="1025" x2="699.2" y2="1025" class="d"/>
<line x1="622" y1="1030.4" x2="711" y2="1030.4" class="d"/>
<line x1="659.1" y1="1048.3" x2="709.6" y2="1048.3" class="d"/>
<line x1="659.1" y1="1142.4" x2="709.6" y2="1142.4" class="d"/>
<line x1="663" y1="1048.3" x2="663" y2="1142.4" class="d" marker-start="url(#a)" marker-end="url(#a)"/>
<text x="620.6" y="1088" textLength="34.1" lengthAdjust="spacingAndGlyphs">2.188</text>
<text x="617" y="1110" textLength="41.5" lengthAdjust="spacingAndGlyphs">(55.58)</text>
<line x1="889" y1="1031.3" x2="948.5" y2="1031.3" class="d"/>
<line x1="944.7" y1="1075" x2="944.7" y2="1031.3" class="d" marker-end="url(#a)"/>
<line x1="944.7" y1="1118" x2="944.7" y2="1159.5" class="d" marker-end="url(#a)"/>
<text x="931.6" y="1092.2" textLength="25.8" lengthAdjust="spacingAndGlyphs">3.00</text>
<text x="927.9" y="1114.2" textLength="33.4" lengthAdjust="spacingAndGlyphs">(76.2)</text>
<line x1="920" y1="1000.2" x2="991" y2="1000.2" class="d"/>
<line x1="890" y1="1159.5" x2="993" y2="1159.5" class="d"/>
<line x1="986.2" y1="1058" x2="986.2" y2="1000.2" class="d" marker-end="url(#a)"/>
<line x1="986.2" y1="1101" x2="986.2" y2="1159.5" class="d" marker-end="url(#a)"/>
<text x="973.2" y="1075.7" textLength="25.8" lengthAdjust="spacingAndGlyphs">3.70</text>
<text x="965.8" y="1097.7" textLength="40.6" lengthAdjust="spacingAndGlyphs">(102.6)</text>
<line x1="713.5" y1="1188" x2="713.5" y2="1220" class="d"/>
<line x1="808.1" y1="1188" x2="808.1" y2="1256" class="d"/>
<line x1="745" y1="1212.2" x2="713.5" y2="1212.2" class="d" marker-end="url(#a)"/>
<line x1="777" y1="1212.2" x2="808.1" y2="1212.2" class="d" marker-end="url(#a)"/>
<text x="748.2" y="1215.7" textLength="26.1" lengthAdjust="spacingAndGlyphs">2.22</text>
<text x="744.6" y="1237.7" textLength="33.3" lengthAdjust="spacingAndGlyphs">(56.4)</text>
<line x1="680.5" y1="1188" x2="680.5" y2="1259" class="d"/>
<line x1="680.5" y1="1249.5" x2="808.1" y2="1249.5" class="d" marker-start="url(#a)" marker-end="url(#a)"/>
<text x="709.6" y="1267.9" textLength="71.8" lengthAdjust="spacingAndGlyphs">2.98 (141.1)</text>
<polyline points="847.6,1222.6 829.8,1222.6 852,1151.2" class="d" marker-end="url(#a)"/>
<text x="847.6" y="1228" textLength="96.5" lengthAdjust="spacingAndGlyphs">Ø 1/4-20 THRU</text>
<text x="858.6" y="1249.2" textLength="125.5" lengthAdjust="spacingAndGlyphs">(M6 X 1.0 THRU) [8]</text>
<text x="858.6" y="1270.6" textLength="89.9" lengthAdjust="spacingAndGlyphs">4 AS SHOWN,</text>
<text x="858.6" y="1291.2" textLength="81" lengthAdjust="spacingAndGlyphs">4 OPPOSITE</text>

<!-- ================= NOTES BOX ================= -->
<rect x="1.8" y="1416.9" width="1092.7" height="150.4" rx="16" fill="none" stroke="#000" stroke-width="1.6"/>
<circle cx="11.6" cy="1436.9" r="8" fill="#000"/><text x="11.6" y="1441.2" class="w">1</text>
<text x="33.8" y="1443.7" style="font-size:19px" textLength="85.5" lengthAdjust="spacingAndGlyphs">DOWEL PINS</text>
<rect x="33.8" y="1456.7" width="153.2" height="32" fill="none" stroke="#000" stroke-width="1.3"/>
<line x1="64.8" y1="1456.7" x2="64.8" y2="1488.7" stroke="#000" stroke-width="1.1"/>
<line x1="153.9" y1="1456.7" x2="153.9" y2="1488.7" stroke="#000" stroke-width="1.1"/>
<circle cx="49.3" cy="1472.7" r="7" fill="none" stroke="#000" stroke-width="1.1"/>
<path d="M49.3,1462.5V1483M39,1472.7H59.6" stroke="#000" stroke-width="1.1"/>
<text x="68.4" y="1479.5" textLength="81.2" lengthAdjust="spacingAndGlyphs">.003 (08mm)</text>
<circle cx="170.3" cy="1472.8" r="10" fill="none" stroke="#000" stroke-width="1.1"/>
<text x="164.8" y="1479.5" style="font-weight:normal;font-size:17px;stroke-width:0.1" textLength="11" lengthAdjust="spacingAndGlyphs">M</text>
<circle cx="11.6" cy="1513.5" r="8" fill="#000"/><text x="11.6" y="1517.8" class="w">2</text>
<text x="33.8" y="1520.3" style="font-size:19px" textLength="122.9" lengthAdjust="spacingAndGlyphs">FOR B3S15BN02 &amp;</text>
<text x="34.9" y="1540.6" style="font-size:19px" textLength="85.5" lengthAdjust="spacingAndGlyphs">B3S15BNL02</text>
<circle cx="213.7" cy="1436.9" r="8" fill="#000"/><text x="213.7" y="1441.2" class="w">3</text>
<text x="226.9" y="1443.7" style="font-size:19px" textLength="104.4" lengthAdjust="spacingAndGlyphs">SHAFT LENGTH</text>
<rect x="206.6" y="1450.1" width="296.4" height="92.5" fill="none" stroke="#000" stroke-width="1.4"/>
<g stroke="#000" stroke-width="1.2"><line x1="206.6" y1="1473.3" x2="503" y2="1473.3"/><line x1="206.6" y1="1496.4" x2="503" y2="1496.4"/><line x1="206.6" y1="1518.7" x2="503" y2="1518.7"/></g>
<text x="210.9" y="1466" class="n" textLength="80.5" lengthAdjust="spacingAndGlyphs">In-line mounting</text>
<text x="444.5" y="1466" class="n" textLength="52.5" lengthAdjust="spacingAndGlyphs">0.69 (17.5)</text>
<text x="212" y="1489.2" class="n" textLength="198.3" lengthAdjust="spacingAndGlyphs">Extended shaft for RP &amp; 23-frame motor</text>
<text x="446.3" y="1489.2" class="n" textLength="51.8" lengthAdjust="spacingAndGlyphs">1.99 (50.5)</text>
<text x="212" y="1511.5" class="n" textLength="198.3" lengthAdjust="spacingAndGlyphs">Extended shaft for RP &amp; 34-frame motor</text>
<text x="445.2" y="1511.5" class="n" textLength="52.9" lengthAdjust="spacingAndGlyphs">2.20 (55.9)</text>
<text x="212" y="1534.8" class="n" textLength="223.3" lengthAdjust="spacingAndGlyphs">Extended shaft for purchases prior to 6/24/02</text>
<text x="448" y="1534.8" class="n" textLength="51.8" lengthAdjust="spacingAndGlyphs">1.95 (49.5)</text>
<circle cx="535.2" cy="1437.9" r="7.8" fill="#EF4423"/><text x="535.2" y="1442.2" class="w" style="font-weight:normal;font-family:'Liberation Serif',serif">4</text>
<path d="M557.7,1428.2 L577.2,1467 H538.3Z" fill="#EF4423"/>
<path d="M557.7,1440 V1457" stroke="#fff" stroke-width="3"/><circle cx="557.7" cy="1461.5" r="1.8" fill="#fff"/>
<text x="570.2" y="1445" class="m r" textLength="284.3" lengthAdjust="spacingAndGlyphs">CAUTION: DO NOT OVERTIGHTEN SWITCH</text>
<text x="640.9" y="1465.6" class="m r" textLength="212.8" lengthAdjust="spacingAndGlyphs">HARDWARE WHEN INSTALLING</text>
<circle cx="534.8" cy="1486.3" r="8" fill="#000"/><text x="534.8" y="1490.6" class="w">5</text>
<text x="550.7" y="1493.1" class="m" textLength="42.8" lengthAdjust="spacingAndGlyphs">NOTE:</text>
<text x="597.3" y="1493.1" class="m" textLength="191.1" lengthAdjust="spacingAndGlyphs">The scored face of the switch</text>
<text x="598.1" y="1513.5" class="m" textLength="220.6" lengthAdjust="spacingAndGlyphs">indicates the sensing surface and</text>
<text x="598.1" y="1533.8" class="m" textLength="190.3" lengthAdjust="spacingAndGlyphs">must face toward the magnet</text>
<circle cx="883.7" cy="1437.9" r="8" fill="#000"/><text x="883.7" y="1442.2" class="w">6</text>
<text x="898.4" y="1444.6" class="m" textLength="149.5" lengthAdjust="spacingAndGlyphs">NOTE: Some actuators</text>
<text x="897.6" y="1467" class="m" textLength="191.1" lengthAdjust="spacingAndGlyphs">require switch mounting on a</text>
<text x="897.6" y="1488.9" class="m" textLength="185.3" lengthAdjust="spacingAndGlyphs">specific side of the actuator.</text>
<text x="897.6" y="1512.5" class="m" textLength="94" lengthAdjust="spacingAndGlyphs">Call Tolomatic</text>
<text x="897.6" y="1534.8" class="m" textLength="166.6" lengthAdjust="spacingAndGlyphs">1-800-328-2174 for details</text>
</svg>
</body></html>
